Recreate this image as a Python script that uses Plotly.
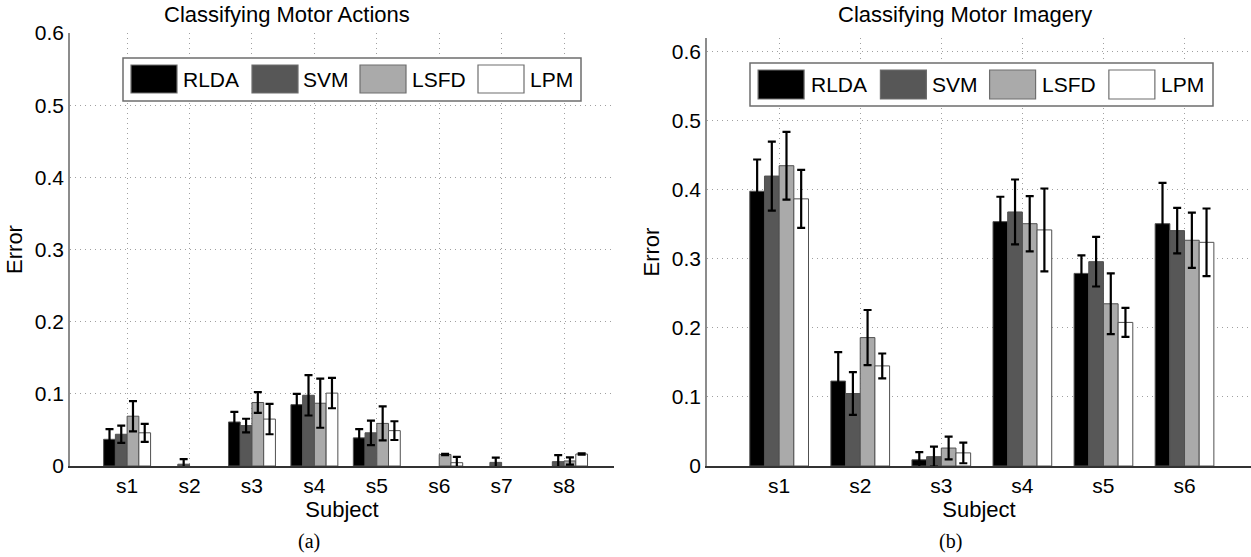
import plotly.graph_objects as go

W, H = 1251, 557

methods = ["RLDA", "SVM", "LSFD", "LPM"]
colors = ["#000000", "#575757", "#aaaaaa", "#ffffff"]

# ---------------- (a) Classifying Motor Actions ----------------
subjects_a = ["s1", "s2", "s3", "s4", "s5", "s6", "s7", "s8"]
rlda_a = [0.037, 0.0, 0.061, 0.085, 0.039, 0.0, 0.0, 0.0]
rlda_a_err = [0.014, 0.0, 0.014, 0.015, 0.012, 0.0, 0.0, 0.0]
svm_a = [0.044, 0.0025, 0.056, 0.098, 0.046, 0.0, 0.005, 0.006]
svm_a_err = [0.012, 0.007, 0.0095, 0.028, 0.017, 0.0, 0.0065, 0.009]
lsfd_a = [0.069, 0.0, 0.088, 0.087, 0.059, 0.016, 0.0, 0.007]
lsfd_a_err = [0.021, 0.0, 0.0145, 0.034, 0.0235, 0.001, 0.0, 0.005]
lpm_a = [0.046, 0.0, 0.065, 0.101, 0.049, 0.0046, 0.0, 0.0166]
lpm_a_err = [0.0125, 0.0, 0.021, 0.021, 0.013, 0.008, 0.0, 0.001]

# ---------------- (b) Classifying Motor Imagery ----------------
subjects_b = ["s1", "s2", "s3", "s4", "s5", "s6"]
rlda_b = [0.398, 0.123, 0.009, 0.354, 0.279, 0.351]
rlda_b_err = [0.046, 0.042, 0.011, 0.036, 0.026, 0.059]
svm_b = [0.420, 0.105, 0.0135, 0.368, 0.296, 0.341]
svm_b_err = [0.050, 0.031, 0.0145, 0.047, 0.036, 0.033]
lsfd_b = [0.435, 0.186, 0.026, 0.351, 0.235, 0.327]
lsfd_b_err = [0.049, 0.040, 0.0165, 0.040, 0.044, 0.040]
lpm_b = [0.387, 0.145, 0.019, 0.342, 0.208, 0.324]
lpm_b_err = [0.042, 0.018, 0.015, 0.060, 0.021, 0.049]

yticks = [0, 0.1, 0.2, 0.3, 0.4, 0.5, 0.6]
ytick_text = ["0", "0.1", "0.2", "0.3", "0.4", "0.5", "0.6"]

FONT = "Liberation Sans, Arial, sans-serif"
SERIF = "Liberation Serif, Times New Roman, serif"
FS = 21


def px(x):
    return x / W


def py(y):
    return 1 - y / H


fig = go.Figure()

panels = [
    ("x", "y", subjects_a, [rlda_a, svm_a, lsfd_a, lpm_a],
     [rlda_a_err, svm_a_err, lsfd_a_err, lpm_a_err], 0.188),
    ("x2", "y2", subjects_b, [rlda_b, svm_b, lsfd_b, lpm_b],
     [rlda_b_err, svm_b_err, lsfd_b_err, lpm_b_err], 0.181),
]

for xa, ya, subs, vals, errs, bw in panels:
    xs = list(range(len(subs)))
    for k, (m, c) in enumerate(zip(methods, colors)):
        yv = [v if v > 0 else None for v in vals[k]]
        e = [v if v > 0 else None for v in errs[k]]
        fig.add_trace(go.Bar(
            x=xs, y=yv, name=m, xaxis=xa, yaxis=ya,
            width=bw, offset=-2 * bw + k * bw,
            marker=dict(color=c, line=dict(color="#505050", width=1)),
            error_y=dict(type="data", array=e, visible=True,
                         color="#000000", thickness=2.2, width=4),
            showlegend=False,
        ))

axis_common = dict(
    showgrid=True, gridcolor="#a0a0a0", griddash="1px,4px", gridwidth=1,
    zeroline=False, ticks="", automargin=False,
    tickfont=dict(family=FONT, size=FS, color="#000"),
    title_font=dict(family=FONT, size=22, color="#000"),
)

fig.update_layout(
    template="none",
    width=W, height=H,
    margin=dict(l=0, r=0, t=0, b=0, pad=0),
    paper_bgcolor="white", plot_bgcolor="white",
    barmode="overlay",
    showlegend=False,
    font=dict(family=FONT, size=FS, color="#000"),
    xaxis=dict(domain=[px(70), px(614)], range=[-0.915, 7.8], anchor="y",
               tickvals=list(range(8)), ticktext=subjects_a,
               showline=True, linecolor="#333333", linewidth=2,
               title=dict(text="Subject", standoff=0), **axis_common),
    yaxis=dict(domain=[py(466), py(33)], range=[0, 0.6], anchor="x",
               tickvals=yticks, ticktext=ytick_text,
               showline=True, linecolor="#8c8c8c", linewidth=1.5,
               title=dict(text="Error", standoff=6), **axis_common),
    xaxis2=dict(domain=[px(707), 1.0], range=[-0.89, 5.82], anchor="y2",
                tickvals=list(range(6)), ticktext=subjects_b,
                showline=True, linecolor="#333333", linewidth=2,
                title=dict(text="Subject", standoff=0), **axis_common),
    yaxis2=dict(domain=[py(466), py(38)], range=[0, 0.62], anchor="x2",
                tickvals=yticks, ticktext=ytick_text,
                showline=True, linecolor="#8c8c8c", linewidth=1.5,
                title=dict(text="Error", standoff=6), **axis_common),
)

shapes = []
annotations = []


def legend(box_l, box_r, box_t, box_b, sw_x, txt_x, sw_t, sw_b):
    shapes.append(dict(type="rect", xref="paper", yref="paper",
                       x0=px(box_l), x1=px(box_r), y0=py(box_b), y1=py(box_t),
                       fillcolor="white", line=dict(color="#6e6e6e", width=1.5),
                       layer="above"))
    for m, c, sx, tx in zip(methods, colors, sw_x, txt_x):
        shapes.append(dict(type="rect", xref="paper", yref="paper",
                           x0=px(sx), x1=px(sx + 46), y0=py(sw_b), y1=py(sw_t),
                           fillcolor=c, line=dict(color="#6e6e6e", width=1.2),
                           layer="above"))
        annotations.append(dict(text=m, xref="paper", yref="paper",
                                x=px(tx), y=py((sw_t + sw_b) / 2),
                                xanchor="left", yanchor="middle", showarrow=False,
                                font=dict(family=FONT, size=21, color="#000")))


legend(123, 581, 58, 101, [131, 252, 360, 478], [181, 301, 410, 528], 65, 93)
sc = 463 / 458
legend(750, 1213, 63, 106,
       [750 + (v - 123) * sc for v in [131, 252, 360, 478]],
       [750 + (v - 123) * sc for v in [181, 301, 410, 528]], 70, 99)

# titles and sub-captions
for text, x, y, fam, size in [
    ("Classifying Motor Actions", 287, 15, FONT, 22),
    ("Classifying Motor Imagery", 965, 15, FONT, 22),
    ("(a)", 309, 541, SERIF, 20),
    ("(b)", 950, 541, SERIF, 20),
]:
    annotations.append(dict(text=text, xref="paper", yref="paper",
                            x=px(x), y=py(y), xanchor="center", yanchor="middle",
                            showarrow=False, font=dict(family=fam, size=size, color="#000")))

fig.update_layout(shapes=shapes, annotations=annotations)

fig.write_html("out.html")
